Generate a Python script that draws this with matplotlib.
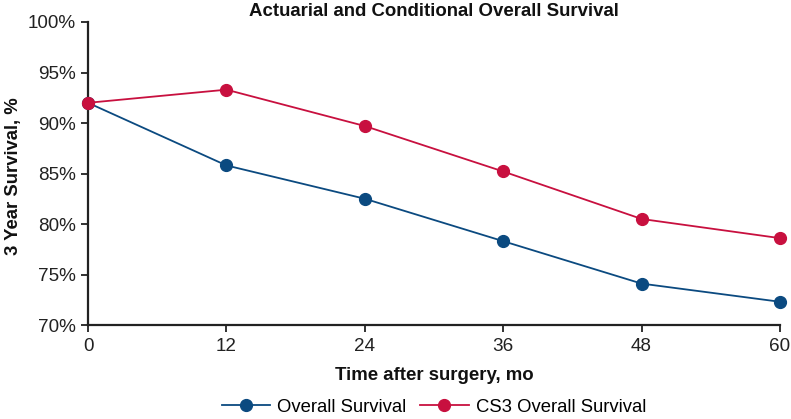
import matplotlib
matplotlib.use("Agg")
import matplotlib.pyplot as plt
from matplotlib.ticker import FuncFormatter

months = [0, 12, 24, 36, 48, 60]
overall = [92.0, 85.8, 82.5, 78.3, 74.1, 72.3]
cs3 = [92.0, 93.3, 89.7, 85.2, 80.5, 78.6]
yticks = [70, 75, 80, 85, 90, 95, 100]

plt.rcParams['font.family'] = ['Liberation Sans', 'DejaVu Sans']

fig = plt.figure(figsize=(7.91, 4.19), dpi=100)
ax = fig.add_axes([0.1113, 0.2243, 0.8748, 0.7232])

blue = '#0b4a80'
red = '#c8103f'
ax.plot(months, overall, color=blue, lw=1.3, marker='o', ms=8.5, label='Overall Survival', clip_on=False, zorder=3)
ax.plot(months, cs3, color=red, lw=1.3, marker='o', ms=8.5, label='CS3 Overall Survival', clip_on=False, zorder=3)

ax.set_xlim(0, 60)
ax.set_ylim(70, 100)
ax.set_xticks(months)
ax.set_yticks(yticks)
ax.yaxis.set_major_formatter(FuncFormatter(lambda v, p: f"{int(v)}%"))
for s in ['top', 'right']:
    ax.spines[s].set_visible(False)
for s in ['left', 'bottom']:
    ax.spines[s].set_linewidth(1.6)
    ax.spines[s].set_color('#222222')
ax.tick_params(axis='both', direction='out', length=5, width=1.3, labelsize=13.6, colors='#222222', pad=4)

fig.text(0.5487, 1 - 11 / 419, 'Actuarial and Conditional Overall Survival', fontsize=13.4,
         fontweight='bold', ha='center', va='center', color='#111111')
ax.set_xlabel('Time after surgery, mo', fontsize=13.4, fontweight='bold', color='#111111')
ax.xaxis.set_label_coords(0.5, -0.165)
ax.xaxis.label.set_va('center')
ax.set_ylabel('3 Year Survival, %', fontsize=13.3, fontweight='bold', color='#111111')
ax.yaxis.set_label_coords(-0.107, 0.49)
ax.yaxis.label.set_va('center')

handles, labels = ax.get_legend_handles_labels()
fig.legend(handles, labels, loc='center', bbox_to_anchor=(0.5487, 1 - 407 / 419), ncol=2, frameon=False,
           fontsize=13.3, handlelength=2.6, columnspacing=0.76, handletextpad=0.38,
           borderpad=0, borderaxespad=0)

fig.savefig('out.png', dpi=100)
